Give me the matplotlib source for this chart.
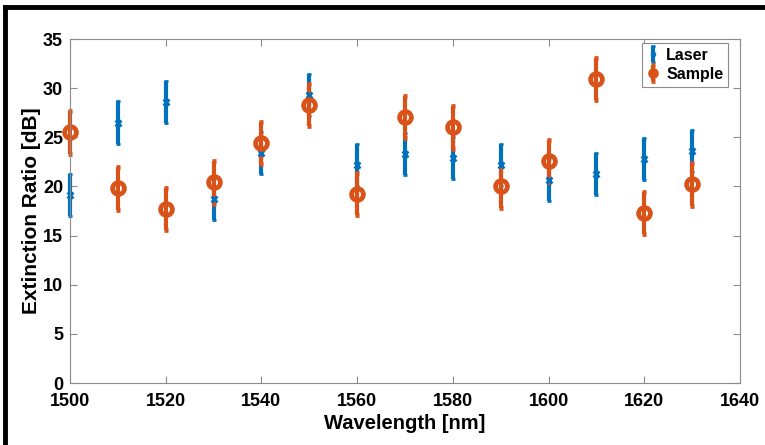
import matplotlib
matplotlib.use("Agg")
import matplotlib.pyplot as plt
from matplotlib.lines import Line2D

wavelength = [1500, 1510, 1520, 1530, 1540, 1550, 1560, 1570, 1580, 1590, 1600, 1610, 1620, 1630]
laser = [19.1, 26.5, 28.6, 18.7, 23.4, 29.3, 22.2, 23.3, 22.9, 22.2, 20.7, 21.3, 22.8, 23.6]
laser_err = [2.15] * 14
sample = [25.5, 19.8, 17.7, 20.4, 24.4, 28.3, 19.2, 27.1, 26.0, 20.0, 22.6, 30.9, 17.3, 20.2]
sample_err = [2.15] * 14
xticks = [1500, 1520, 1540, 1560, 1580, 1600, 1620, 1640]
yticks = [0, 5, 10, 15, 20, 25, 30, 35]

plt.rcParams['font.family'] = ['Liberation Sans', 'DejaVu Sans']
plt.rcParams['font.weight'] = 'bold'

BLUE = '#0072BD'
ORANGE = '#D95319'
GRAY = '#8c8c8c'

fig = plt.figure(figsize=(7.65, 4.45), dpi=100)
ax = fig.add_axes([70/765, 1-383/445, (740-70)/765, (383-39)/445])

c1 = ax.errorbar(wavelength, laser, yerr=laser_err, fmt='x', color=BLUE, ecolor=BLUE,
                 elinewidth=3, capsize=1.5, capthick=2, markersize=5, mew=2, label='Laser')
c2 = ax.errorbar(wavelength, sample, yerr=sample_err, fmt='o', color=ORANGE, ecolor=ORANGE,
                 elinewidth=3, capsize=1.5, capthick=2, markersize=8.5, mew=3.4, mfc='none',
                 label='Sample')
for cont in (c1, c2):
    for art in cont.get_children():
        art.set_clip_on(False)

ax.set_xlim(1500, 1640)
ax.set_ylim(0, 35)
ax.set_xticks(xticks)
ax.set_yticks(yticks)
ax.tick_params(direction='in', top=True, right=True, length=5, width=0.8, color=GRAY,
               labelsize=13)
ax.tick_params(axis='x', pad=7)
ax.tick_params(axis='y', pad=5)
for lab in ax.get_xticklabels() + ax.get_yticklabels():
    lab.set_fontweight('bold')
for s in ax.spines.values():
    s.set_color(GRAY)
    s.set_linewidth(0.8)

ax.set_xlabel('Wavelength [nm]', fontsize=14.5, fontweight='bold', labelpad=3)
ax.set_ylabel('Extinction Ratio [dB]', fontsize=15, fontweight='bold', labelpad=1.5)

leg = ax.legend(loc='upper right', bbox_to_anchor=((728-70)/670, (383-43)/344),
                fontsize=11.5, fancybox=False, edgecolor=GRAY, markerscale=0.5,
                framealpha=1, handlelength=0.7, handletextpad=0.5, borderpad=0.3,
                labelspacing=0.25, borderaxespad=0)
for t in leg.get_texts():
    t.set_fontweight('bold')
leg.get_frame().set_linewidth(0.8)

# black frame lines (top and left)
fig.add_artist(Line2D([5/765, 1.0], [1-7/445, 1-7/445], color='black', lw=3.5,
                      transform=fig.transFigure))
fig.add_artist(Line2D([5/765, 5/765], [1-7/445, 0.0], color='black', lw=3.5,
                      transform=fig.transFigure))

fig.savefig('out.png', dpi=100)
